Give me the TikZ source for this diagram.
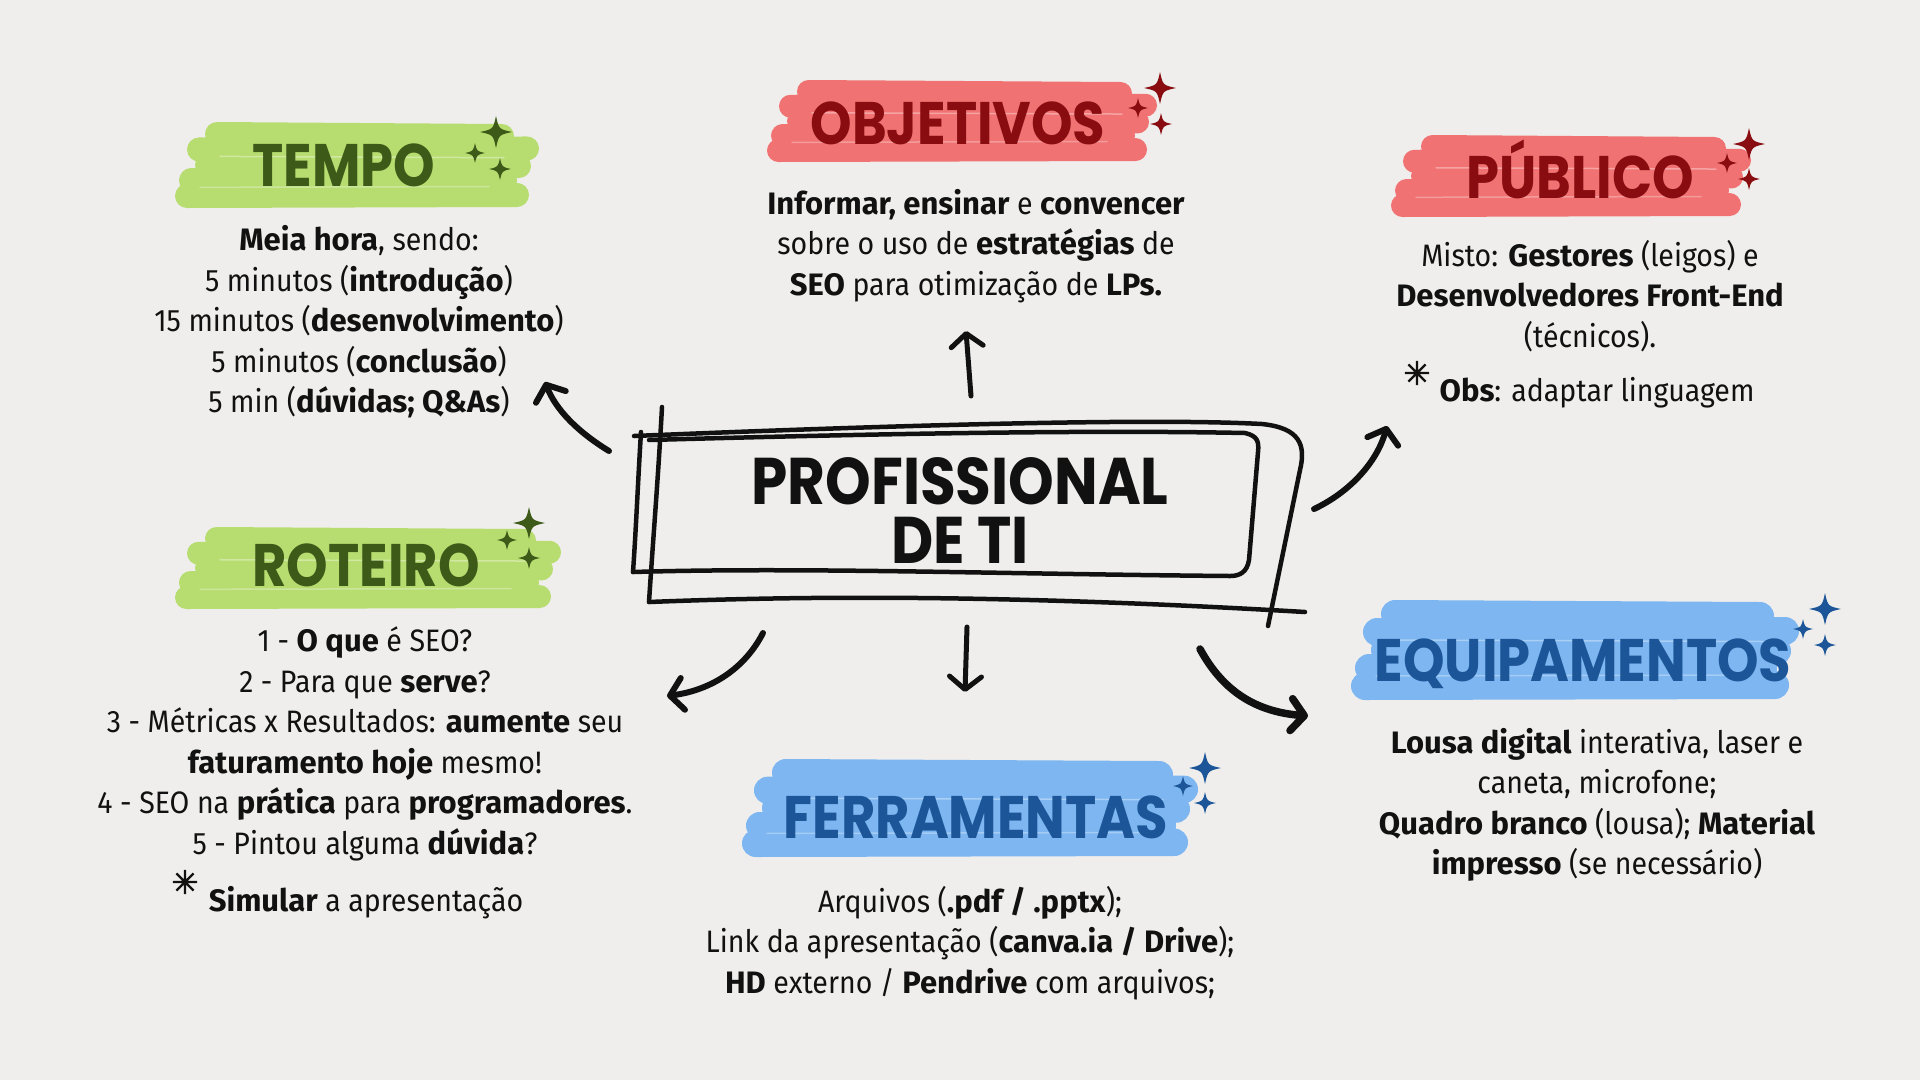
\documentclass[tikz,border=0pt]{standalone}
\usepackage{fontspec}
\setmainfont{Fira Sans}[UprightFeatures={FakeStretch=0.92}]
\newfontfamily\headfont[FakeStretch=0.88]{Poppins}
\newfontfamily\symfont[FakeBold=2.5]{DejaVu Sans}
\usetikzlibrary{arrows.meta}
\definecolor{bg}{HTML}{EFEEEC}
\definecolor{ink}{HTML}{111111}
\definecolor{gbrush}{HTML}{B7DD70}
\definecolor{gtext}{HTML}{3D5A18}
\definecolor{rbrush}{HTML}{F07272}
\definecolor{rtext}{HTML}{880C10}
\definecolor{bbrush}{HTML}{7DB6F0}
\definecolor{btext}{HTML}{1D5698}
\newcommand{\sparkle}[4]{%
  \fill[#4] (#1,{#2-#3}) .. controls ({#1+0.18*#3},{#2-0.18*#3}) .. ({#1+#3},#2)
    .. controls ({#1+0.18*#3},{#2+0.18*#3}) .. (#1,{#2+#3})
    .. controls ({#1-0.18*#3},{#2+0.18*#3}) .. ({#1-#3},#2)
    .. controls ({#1-0.18*#3},{#2-0.18*#3}) .. (#1,{#2-#3}) -- cycle;}
\newcommand{\brush}[5]{% cx cy w h color
  \begin{scope}[line cap=round, draw=#5]
    \pgfmathsetmacro\lw{0.56*#4}
    \pgfmathsetmacro\rr{0.28*#4}
    \draw[line width=\lw pt] ({#1-#3+\rr+30},{#2-0.72*#4}) -- ({#1+#3-\rr-25},{#2-0.72*#4+2});
    \draw[line width=\lw pt] ({#1-#3+\rr+12},{#2-0.36*#4}) -- ({#1+#3-\rr},{#2-0.36*#4-1});
    \draw[line width=\lw pt] ({#1-#3+\rr+20},{#2}) -- ({#1+#3-\rr-8},{#2+1});
    \draw[line width=\lw pt] ({#1-#3+\rr+4},{#2+0.36*#4}) -- ({#1+#3-\rr-22},{#2+0.36*#4});
    \draw[line width=\lw pt] ({#1-#3+\rr},{#2+0.72*#4}) -- ({#1+#3-\rr-10},{#2+0.72*#4-1});
    \draw[white, opacity=0.35, line width=1.5pt] ({#1-#3+45},{#2-0.2*#4}) -- ({#1+#3-35},{#2-0.17*#4});
    \draw[white, opacity=0.3, line width=1.5pt] ({#1-#3+25},{#2+0.52*#4}) -- ({#1+#3-50},{#2+0.5*#4});
  \end{scope}}
\tikzset{
  head/.style={font=\headfont\bfseries\fontsize{60}{60}\selectfont, anchor=base, inner sep=0pt},
  body/.style={font=\fontsize{31}{40.5}\selectfont, align=center, text=ink, inner sep=0pt},
  sketch/.style={line width=4.5pt, line cap=round, line join=round, draw=ink},
  arr/.style={line width=6pt, line cap=round, line join=round, draw=ink,
    -{Straight Barb[length=13pt,width=32pt,line cap=round,line join=round]}},
  star/.style={font=\symfont\fontsize{32}{32}\selectfont, text=ink, inner sep=0pt}
}
\begin{document}
\begin{tikzpicture}[x=1pt,y=-1pt]
\useasboundingbox (0,0) rectangle (1920,1080);
\fill[bg] (0,0) rectangle (1920,1080);

% ---------- brushes ----------
\brush{357}{165}{182}{43}{gbrush}
\brush{962}{121}{195}{41}{rbrush}
\brush{1571}{176}{180}{41}{rbrush}
\brush{368}{568}{193}{41}{gbrush}
\brush{1575}{650}{224}{50}{bbrush}
\brush{970}{808}{228}{49}{bbrush}

% ---------- sparkles ----------
\sparkle{496}{132}{16}{gtext}\sparkle{475}{153}{10}{gtext}\sparkle{500}{169}{11}{gtext}
\sparkle{1160}{88}{16}{rtext}\sparkle{1138}{108}{10}{rtext}\sparkle{1161}{124}{11}{rtext}
\sparkle{1749}{144}{16}{rtext}\sparkle{1727}{163}{10}{rtext}\sparkle{1749}{179}{11}{rtext}
\sparkle{529}{523}{16}{gtext}\sparkle{507}{540}{10}{gtext}\sparkle{529}{558}{11}{gtext}
\sparkle{1825}{609}{16}{btext}\sparkle{1803}{629}{10}{btext}\sparkle{1825}{645}{11}{btext}
\sparkle{1205}{768}{16}{btext}\sparkle{1183}{786}{10}{btext}\sparkle{1205}{803}{11}{btext}

% ---------- headings ----------
\node[head, text=gtext] (tempoH) at (344,186) {TEMPO};
\node[head, text=rtext] (objH) at (958,144) {OBJETIVOS};
\node[head, text=rtext] (pubH) at (1580,198) {PÚBLICO};
\node[head, text=gtext] (rotH) at (366,586) {ROTEIRO};
\node[head, text=btext] (equH) at (1583,681) {EQUIPAMENTOS};
\node[head, text=btext] (ferH) at (976,838) {FERRAMENTAS};

% ---------- bodies ----------
\node[body] (tempoB) at (359,322) {\textbf{Meia hora}, sendo:\\
5 minutos (\textbf{introdução})\\
15 minutos (\textbf{desenvolvimento})\\
5 minutos (\textbf{conclusão})\\
5 min (\textbf{dúvidas; Q\&As})};

\node[body] (objB) at (976,246) {\textbf{Informar, ensinar} e \textbf{convencer}\\
sobre o uso de \textbf{estratégias} de\\
\textbf{SEO} para otimização de \textbf{LPs.}};

\node[body] (pubB) at (1590,296) {Misto: \textbf{Gestores} (leigos) e\\
\textbf{Desenvolvedores Front-End}\\
(técnicos).};
\node[body] (pubObs) at (1597,393) {\textbf{Obs}: adaptar linguagem};
\node[star] (pubAst) at (1417,373) {✳};

\node[body] (rotB) at (365,744) {1 - \textbf{O que} é SEO?\\
2 - Para que \textbf{serve}?\\
3 - Métricas x Resultados: \textbf{aumente} seu\\
\textbf{faturamento hoje} mesmo!\\
4 - SEO na \textbf{prática} para \textbf{programadores}.\\
5 - Pintou alguma \textbf{dúvida}?};
\node[body] (rotSim) at (366,903) {\textbf{Simular} a apresentação};
\node[star] (rotAst) at (185,882) {✳};

\node[body] (equB) at (1597,805) {\textbf{Lousa digital} interativa, laser e\\
caneta, microfone;\\
\textbf{Quadro branco} (lousa); \textbf{Material}\\
\textbf{impresso} (se necessário)};

\node[body] (ferB) at (970,943) {Arquivos (\textbf{.pdf / .pptx});\\
Link da apresentação (\textbf{canva.ia / Drive});\\
\textbf{HD} externo / \textbf{Pendrive} com arquivos;};

% ---------- central box ----------
\node[font=\headfont\bfseries\fontsize{66}{59}\selectfont, align=center, text=ink, inner sep=0pt]
  (core) at (960,510) {PROFISSIONAL\\DE TI};
\draw[sketch] (662,407) .. controls (658,480) and (653,540) .. (649,602);
\draw[sketch] (641,432) .. controls (638,480) and (636,530) .. (633,572);
\draw[sketch] (634,436) .. controls (900,425) and (1150,418) .. (1262,424)
  .. controls (1300,428) and (1306,445) .. (1300,470) -- (1268,626);
\draw[sketch] (649,440) .. controls (900,433) and (1100,430) .. (1245,433)
  .. controls (1258,436) and (1259,442) .. (1258,452) -- (1249,560)
  .. controls (1247,572) and (1240,576) .. (1230,576)
  .. controls (1000,574) and (800,567) .. (633,572);
\draw[sketch] (649,602) .. controls (800,596) and (1000,594) .. (1305,612);

% ---------- arrows ----------
\coordinate (a1s) at (609,451); \coordinate (a1e) at (545,382);
\coordinate (a2s) at (971,396); \coordinate (a2e) at (966,331);
\coordinate (a3s) at (1314,509); \coordinate (a3e) at (1387,426);
\coordinate (a4s) at (763,633); \coordinate (a4e) at (667,696);
\coordinate (a5s) at (967,627); \coordinate (a5e) at (965,692);
\coordinate (a6s) at (1200,649); \coordinate (a6e) at (1308,716);
\draw[arr] (a1s) .. controls (578,432) and (556,410) .. (a1e);
\draw[arr, line width=5pt] (a2s) -- (a2e);
\draw[arr] (a3s) .. controls (1350,492) and (1377,462) .. (a3e);
\draw[arr] (a4s) .. controls (745,668) and (712,690) .. (a4e);
\draw[arr, line width=5pt] (a5s) -- (a5e);
\draw[arr, line width=7.5pt] (a6s) .. controls (1225,695) and (1260,712) .. (a6e);
\end{tikzpicture}
\end{document}
